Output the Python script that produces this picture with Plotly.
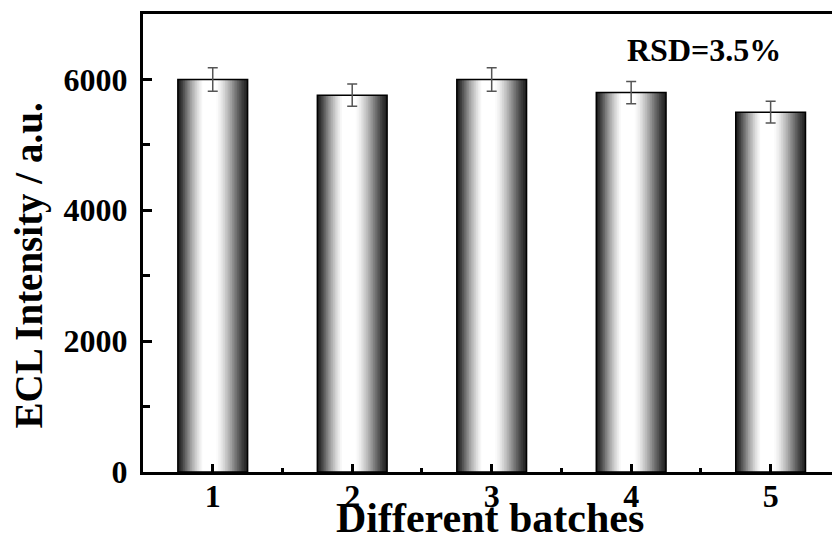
import plotly.graph_objects as go

# ---- data ----
batches = [1, 2, 3, 4, 5]
tick_labels = ["1", "2", "3", "4", "5"]
intensity = [6000, 5760, 6000, 5800, 5500]
errors = [180, 170, 180, 170, 165]
y_ticks = [0, 2000, 4000, 6000]
rsd_text = "RSD=3.5%"
x_title = "Different batches"
y_title = "ECL Intensity / a.u."

FONT = "Liberation Serif"

# shading profile across a bar (position fraction -> gray level), style only
prof_u = [0.0, 0.05, 0.12, 0.2, 0.3, 0.36, 0.55, 0.62, 0.72, 0.82, 0.92, 1.0]
prof_g = [25, 55, 110, 170, 230, 255, 255, 235, 185, 125, 65, 30]


def gray_at(u):
    for i in range(len(prof_u) - 1):
        if prof_u[i] <= u <= prof_u[i + 1]:
            f = (u - prof_u[i]) / (prof_u[i + 1] - prof_u[i])
            return prof_g[i] + f * (prof_g[i + 1] - prof_g[i])
    return prof_g[-1]


fig = go.Figure()

bar_w = 0.5
S = 40
dw = bar_w / S
for i in range(S):
    u = (i + 0.5) / S
    g = int(round(gray_at(u)))
    c = f"rgb({g},{g},{g})"
    extra = dw * 0.6 if i < S - 1 else 0
    fig.add_trace(go.Bar(
        x=batches, y=intensity,
        width=dw + extra, offset=-bar_w / 2 + i * dw,
        # thin same-colour outline avoids pixel rounding (smooth gradient)
        marker=dict(color=c, line=dict(color=c, width=0.05)),
        showlegend=False, hoverinfo="skip",
    ))

# outline + error bars
fig.add_trace(go.Bar(
    x=batches, y=intensity, width=bar_w, offset=-bar_w / 2,
    marker=dict(color="rgba(0,0,0,0)", line=dict(color="black", width=1.5)),
    error_y=dict(type="data", array=errors, visible=True,
                 color="#555555", thickness=1.5, width=5),
    showlegend=False,
))

fig.add_annotation(x=4.52, y=6450, xref="x", yref="y", text=rsd_text,
                   showarrow=False,
                   font=dict(family=FONT, size=32, color="black", weight="bold"))

# axis titles
fig.add_annotation(x=0.5036, y=-0.10, xref="paper", yref="paper",
                   text=x_title, showarrow=False, xanchor="center", yanchor="middle",
                   font=dict(family=FONT, size=42, color="black", weight="bold"))
fig.add_annotation(x=-0.166, y=0.45, xref="paper", yref="paper",
                   text=y_title, showarrow=False, textangle=-90,
                   xanchor="center", yanchor="middle",
                   font=dict(family=FONT, size=39, color="black", weight="bold"))

fig.update_layout(
    width=832, height=544,
    margin=dict(l=143, r=0, t=14, b=72),
    barmode="overlay", bargap=0.2,
    plot_bgcolor="white", paper_bgcolor="white",
    template=None,
    xaxis=dict(
        range=[0.5, 5.44], tickvals=batches, ticktext=tick_labels,
        ticks="inside", ticklen=8, tickwidth=3, tickcolor="black",
        showline=True, linewidth=3, linecolor="black", mirror=True,
        showgrid=False, zeroline=False, automargin=False,
        ticklabelstandoff=-6,
        minor=dict(tickvals=[1.5, 2.5, 3.5, 4.5], ticks="inside",
                   ticklen=4, tickwidth=3, tickcolor="black", showgrid=False),
        tickfont=dict(family=FONT, size=32, color="black", weight="bold"),
    ),
    yaxis=dict(
        range=[0, 7000], tickvals=y_ticks,
        ticks="inside", ticklen=9, tickwidth=3, tickcolor="black",
        showline=True, linewidth=3, linecolor="black", mirror=False,
        showgrid=False, zeroline=False, automargin=False,
        ticklabelstandoff=6,
        minor=dict(dtick=1000, ticks="inside", ticklen=7, tickwidth=3,
                   tickcolor="black", showgrid=False),
        tickfont=dict(family=FONT, size=32, color="black", weight="bold"),
    ),
)

fig.write_html("out.html")
